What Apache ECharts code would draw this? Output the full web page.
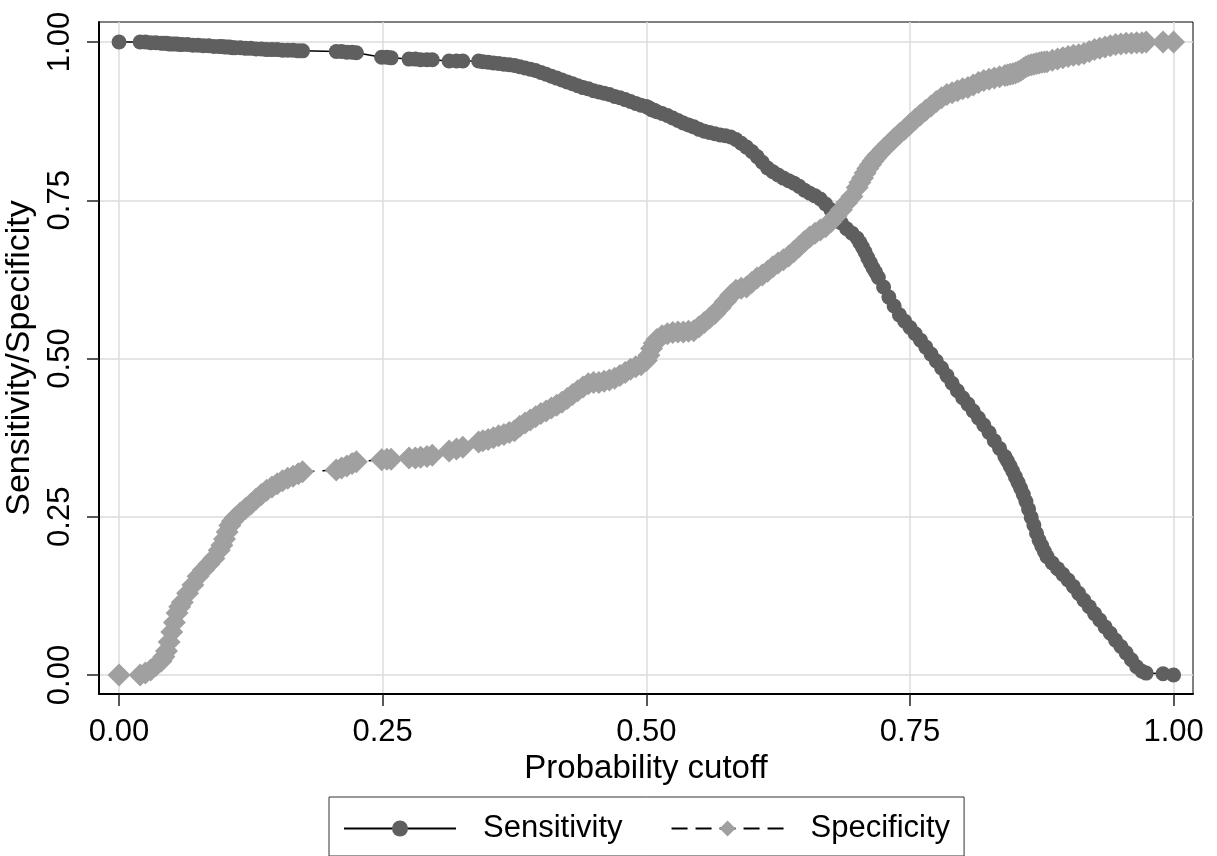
<!DOCTYPE html>
<html><head><meta charset="utf-8">
<script src="https://cdn.jsdelivr.net/npm/echarts@6/dist/echarts.min.js"></script>
<style>html,body{margin:0;padding:0;background:#fff}#chart{width:1217px;height:856px}</style>
</head><body><div id="chart"></div>
<script>
const cutoff = [0,
 0.020,0.025,0.030,0.035,0.040,0.0425,0.045,0.0475,0.050,0.0525,0.055,0.0575,0.060,0.065,0.070,0.075,0.080,0.085,0.090,0.095,0.0975,0.100,0.1025,0.105,0.1075,0.110,0.115,0.120,0.125,0.130,0.135,0.140,0.145,0.150,0.155,0.160,0.165,0.170,0.174,
 0.206,0.211,0.216,0.221,0.225,
 0.249,0.254,0.258,
 0.275,0.281,0.286,0.292,0.297,
 0.313,0.320,0.326,
 0.341,0.345,0.350,0.355,0.360,0.365,0.370,0.375,0.380,0.385,0.390,0.395,0.400,0.405,0.410,0.415,0.420,0.425,0.430,0.435,0.440,0.445,0.450,0.455,0.460,0.465,0.470,0.475,0.480,0.485,0.490,0.495,
 0.500,0.5025,0.505,0.5075,0.510,0.515,0.520,0.525,0.530,0.535,0.540,0.545,0.550,0.555,0.560,0.565,0.570,0.575,0.580,0.585,0.590,0.595,
 0.600,0.605,0.610,0.615,0.620,0.625,0.630,0.635,0.640,0.645,0.650,0.655,0.660,0.665,0.670,0.675,0.680,0.685,0.690,0.695,
 0.700,0.7025,0.705,0.7075,0.710,0.7125,0.715,0.7175,0.720,0.725,0.730,0.735,0.740,0.745,0.750,0.755,0.760,0.765,0.770,0.775,0.780,0.785,0.790,0.795,
 0.800,0.805,0.810,0.815,0.820,0.825,0.830,0.835,0.840,0.8425,0.845,0.8475,0.850,0.8525,0.855,0.8575,0.860,0.8625,0.865,0.8675,0.870,0.8725,0.875,0.8775,0.880,0.885,0.890,0.895,
 0.900,0.905,0.910,0.915,0.920,0.925,0.930,0.935,0.940,0.945,0.950,0.955,0.960,0.965,0.970,0.974,
 0.990,1.000];

const sensitivity = [1.000,
 1.000,1.000,0.999,0.999,0.998,0.998,0.998,0.997,0.997,0.997,0.997,0.996,0.996,0.996,0.995,0.995,0.994,0.994,0.993,0.993,0.993,0.992,0.992,0.992,0.991,0.991,0.991,0.990,0.990,0.989,0.989,0.988,0.988,0.988,0.987,0.987,0.987,0.986,0.986,
 0.985,0.985,0.984,0.984,0.983,
 0.976,0.976,0.975,
 0.973,0.973,0.972,0.972,0.972,
 0.970,0.970,0.970,
 0.970,0.969,0.968,0.967,0.966,0.965,0.964,0.963,0.961,0.959,0.957,0.955,0.952,0.949,0.946,0.943,0.940,0.937,0.934,0.931,0.928,0.926,0.923,0.921,0.919,0.917,0.914,0.912,0.909,0.906,0.903,0.900,
 0.898,0.896,0.893,0.892,0.890,0.887,0.884,0.880,0.876,0.872,0.869,0.866,0.862,0.859,0.857,0.855,0.853,0.852,0.850,0.846,0.840,0.834,
 0.827,0.819,0.810,0.801,0.795,0.790,0.785,0.781,0.777,0.772,0.766,0.761,0.757,0.752,0.744,0.735,0.724,0.714,0.705,0.698,
 0.690,0.683,0.676,0.668,0.659,0.651,0.643,0.636,0.628,0.613,0.597,0.583,0.569,0.559,0.549,0.539,0.529,0.518,0.507,0.496,0.485,0.473,0.461,0.449,
 0.438,0.428,0.417,0.406,0.395,0.383,0.370,0.358,0.345,0.338,0.330,0.322,0.313,0.304,0.295,0.285,0.274,0.262,0.249,0.237,0.224,0.213,0.204,0.195,0.187,0.177,0.168,0.159,
 0.150,0.140,0.129,0.118,0.108,0.097,0.087,0.076,0.066,0.055,0.045,0.035,0.024,0.013,0.006,0.003,
 0.002,0.000];

const specificity = [0.000,
 0.000,0.003,0.008,0.015,0.022,0.029,0.038,0.052,0.068,0.083,0.098,0.108,0.115,0.129,0.142,0.156,0.166,0.175,0.184,0.197,0.205,0.215,0.226,0.236,0.243,0.248,0.256,0.263,0.270,0.278,0.285,0.292,0.297,0.302,0.307,0.311,0.314,0.318,0.321,
 0.324,0.327,0.330,0.334,0.337,
 0.340,0.341,0.341,
 0.343,0.343,0.344,0.345,0.347,
 0.354,0.357,0.360,
 0.368,0.370,0.372,0.375,0.378,0.380,0.383,0.386,0.393,0.398,0.403,0.408,0.413,0.417,0.422,0.426,0.431,0.437,0.443,0.449,0.455,0.460,0.462,0.462,0.464,0.466,0.469,0.473,0.478,0.483,0.487,0.490,
 0.497,0.505,0.516,0.524,0.530,0.536,0.539,0.541,0.542,0.542,0.543,0.544,0.550,0.557,0.564,0.571,0.580,0.590,0.600,0.608,0.611,0.613,
 0.620,0.627,0.632,0.638,0.645,0.651,0.656,0.662,0.669,0.677,0.685,0.692,0.698,0.703,0.708,0.716,0.725,0.735,0.746,0.756,
 0.770,0.778,0.785,0.793,0.800,0.806,0.812,0.817,0.822,0.831,0.839,0.847,0.855,0.862,0.870,0.878,0.885,0.892,0.899,0.906,0.912,0.917,0.920,0.923,
 0.926,0.928,0.932,0.936,0.939,0.941,0.943,0.945,0.947,0.948,0.949,0.950,0.951,0.953,0.955,0.958,0.961,0.963,0.964,0.965,0.966,0.967,0.968,0.9685,0.969,0.971,0.973,0.975,
 0.977,0.979,0.980,0.982,0.985,0.988,0.990,0.992,0.994,0.996,0.997,0.998,0.998,0.999,0.999,1.000,
 1.000,1.000];

const xTicks = [0, 0.25, 0.5, 0.75, 1];
const yTicks = [0, 0.25, 0.5, 0.75, 1];
const seriesNames = ['Sensitivity', 'Specificity'];
const xTitle = 'Probability cutoff';
const yTitle = 'Sensitivity/Specificity';

if (cutoff.length !== sensitivity.length || cutoff.length !== specificity.length) {
  throw new Error('length mismatch ' + cutoff.length + ' ' + sensitivity.length + ' ' + specificity.length);
}

const FONT = 'Liberation Sans, Arial, sans-serif';
const chart = echarts.init(document.getElementById('chart'), null, {renderer: 'canvas'});
const pairs = arr => cutoff.map((c, i) => [c, arr[i]]);

chart.setOption({
  backgroundColor: '#fff',
  animation: false,
  textStyle: {fontFamily: FONT},
  grid: {left: 99, right: 24, top: 22, bottom: 162, show: true, borderColor: '#000', borderWidth: 1, outerBoundsMode: 'none'},
  xAxis: {
    type: 'value', min: -0.019, max: 1.0184,
    name: xTitle, nameLocation: 'middle', nameGap: 51,
    nameTextStyle: {fontSize: 33, color: '#000', fontFamily: FONT},
    axisLine: {show: true, onZero: false, lineStyle: {color: '#000', width: 2}},
    axisTick: {show: true, length: 12, customValues: xTicks, lineStyle: {color: '#222', width: 1.5}},
    axisLabel: {customValues: xTicks, formatter: v => v.toFixed(2), fontSize: 31, color: '#000', margin: 23, fontFamily: FONT},
    splitLine: {show: true, lineStyle: {color: '#dcdcdc', width: 1.5}}
  },
  yAxis: {
    type: 'value', min: -0.030, max: 1.0316,
    name: yTitle, nameLocation: 'middle', nameGap: 49,
    nameTextStyle: {fontSize: 34, color: '#000', fontFamily: FONT},
    axisLine: {show: true, onZero: false, lineStyle: {color: '#000', width: 2}},
    axisTick: {show: true, length: 12, customValues: yTicks, lineStyle: {color: '#222', width: 1.5}},
    axisLabel: {customValues: yTicks, formatter: v => v.toFixed(2), fontSize: 31, color: '#000', margin: 23, rotate: 90, fontFamily: FONT},
    splitLine: {show: true, lineStyle: {color: '#dcdcdc', width: 1.5}}
  },
  legend: {
    left: 329, top: 797, orient: 'horizontal',
    padding: [16, 14, 12, 14],
    borderColor: '#333', borderWidth: 1,
    itemWidth: 112, itemHeight: 20, itemGap: 48,
    textStyle: {fontSize: 31, color: '#000', fontFamily: FONT, padding: [0, 0, 0, 22]},
    data: seriesNames
  },
  series: [
    {
      name: seriesNames[0], type: 'line', data: pairs(sensitivity),
      symbol: 'circle', symbolSize: 15,
      itemStyle: {color: '#5f5f5f'},
      lineStyle: {color: '#000', width: 1.5, type: 'solid'},
      emphasis: {disabled: true}
    },
    {
      name: seriesNames[1], type: 'line', data: pairs(specificity),
      symbol: 'diamond', symbolSize: 23,
      itemStyle: {color: '#a0a0a0'},
      lineStyle: {color: '#000', width: 1.5, type: [16, 8]},
      emphasis: {disabled: true}
    }
  ]
});
</script>
</body></html>
